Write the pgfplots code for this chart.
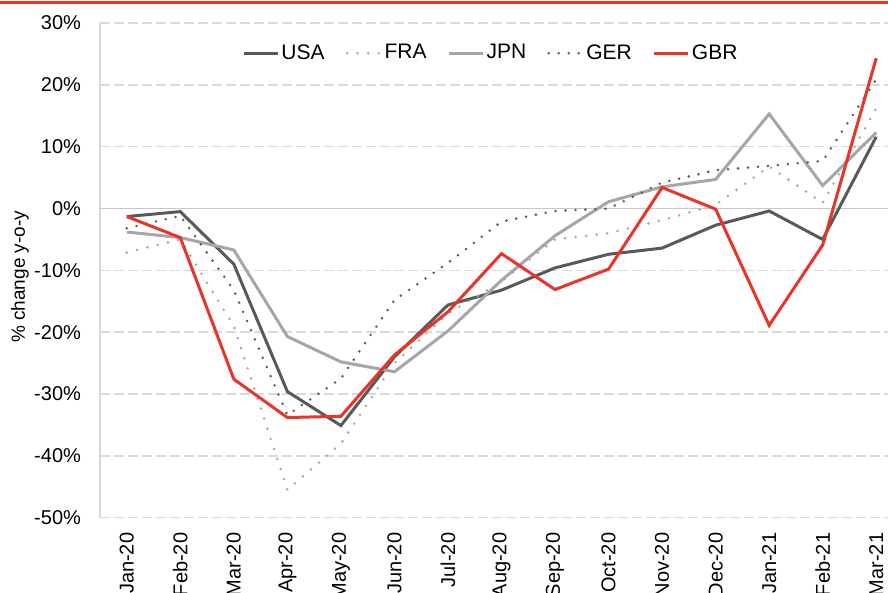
\documentclass[border=0pt]{standalone}
\usepackage{pgfplots}
\pgfplotsset{compat=1.18}
\usepackage{fontspec}
\setmainfont{Liberation Sans}
\definecolor{cdark}{RGB}{89,89,89}
\definecolor{clight}{RGB}{166,166,166}
\definecolor{cred}{RGB}{233,52,42}
\definecolor{cgrid}{RGB}{217,217,217}
\newcommand\tf{\fontsize{10}{12}\selectfont}
\begin{document}
\begin{tikzpicture}
\begin{axis}[
  at={(0,0)}, anchor=south west,
  scale only axis, width=394pt, height=247.35pt,
  xmin=-0.5, xmax=14.22, ymin=-50, ymax=30,
  xtick={0,...,14},
  xticklabels={Jan-20,Feb-20,Mar-20,Apr-20,May-20,Jun-20,Jul-20,Aug-20,Sep-20,Oct-20,Nov-20,Dec-20,Jan-21,Feb-21,Mar-21},
  ytick={-50,-40,...,30},
  /pgf/number format/assume math mode=true,
  yticklabel={\pgfmathprintnumber{\tick}\%},
  ymajorgrids,
  major grid style={cgrid, line width=0.8pt, dash pattern=on 5pt off 2pt},
  extra y ticks={0}, extra y tick labels={},
  extra y tick style={grid=major, major grid style={solid, draw=cgrid!92!black, line width=0.9pt}},
  axis y line*=left, axis x line*=bottom,
  x axis line style={draw=none},
  y axis line style={draw=cgrid, line width=1pt, -},
  major tick length=0pt,
  tick style={draw=none},
  yticklabel style={font=\tf, xshift=-6pt},
  xticklabel style={font=\tf, yshift=-4pt, rotate=90, anchor=east},
  ylabel={\% change y-o-y},
  every axis y label/.style={at={(axis description cs:-0.1015,0.487)}, rotate=90, anchor=center, font=\fontsize{9.5}{11}\selectfont},
  legend columns=5,
  legend style={at={(axis description cs:0.496,0.939)}, anchor=center, draw=none, fill=none, font=\fontsize{10.5}{12}\selectfont,
    /tikz/every even column/.append style={column sep=9.5pt},
    nodes={inner sep=1pt}},
  legend cell align=left,
]
\addplot[cdark, line width=1.5pt] coordinates {
(0,-1.3)(1,-0.5)(2,-9.0)(3,-29.6)(4,-35.1)(5,-24.0)(6,-15.6)(7,-13.2)(8,-9.6)(9,-7.4)(10,-6.4)(11,-2.7)(12,-0.4)(13,-5.0)(14,11.6)};
\addlegendentry{USA}
\addplot[clight, line width=1.4pt, line cap=round, dash pattern=on 0pt off 5.3pt] coordinates {
(0,-7.1)(1,-5.0)(2,-19.0)(3,-45.5)(4,-38.0)(5,-25.0)(6,-17.0)(7,-11.8)(8,-5.0)(9,-4.0)(10,-1.9)(11,0.6)(12,6.8)(13,0.9)(14,16.2)};
\addlegendentry{FRA}
\addplot[clight, line width=1.5pt] coordinates {
(0,-3.8)(1,-4.7)(2,-6.7)(3,-20.7)(4,-24.8)(5,-26.4)(6,-19.8)(7,-11.6)(8,-4.4)(9,1.1)(10,3.5)(11,4.7)(12,15.3)(13,3.7)(14,12.3)};
\addlegendentry{JPN}
\addplot[cdark, line width=1.4pt, line cap=round, dash pattern=on 0pt off 5pt] coordinates {
(0,-3.2)(1,-1.2)(2,-13.2)(3,-33.4)(4,-27.5)(5,-14.8)(6,-8.8)(7,-2.1)(8,-0.4)(9,0.0)(10,4.2)(11,6.2)(12,6.9)(13,7.7)(14,20.9)};
\addlegendentry{GER}
\addplot[cred, line width=1.5pt] coordinates {
(0,-1.3)(1,-4.7)(2,-27.6)(3,-33.8)(4,-33.6)(5,-23.7)(6,-16.7)(7,-7.3)(8,-13.1)(9,-9.8)(10,3.4)(11,-0.1)(12,-18.9)(13,-5.9)(14,24.3)};
\addlegendentry{GBR}
\end{axis}
\pgfresetboundingbox
\useasboundingbox (-50pt,-37.65pt) rectangle (394pt,258.85pt);
\fill[cred] (-50pt,256.9pt) rectangle (394pt,258.3pt);
\end{tikzpicture}
\end{document}
